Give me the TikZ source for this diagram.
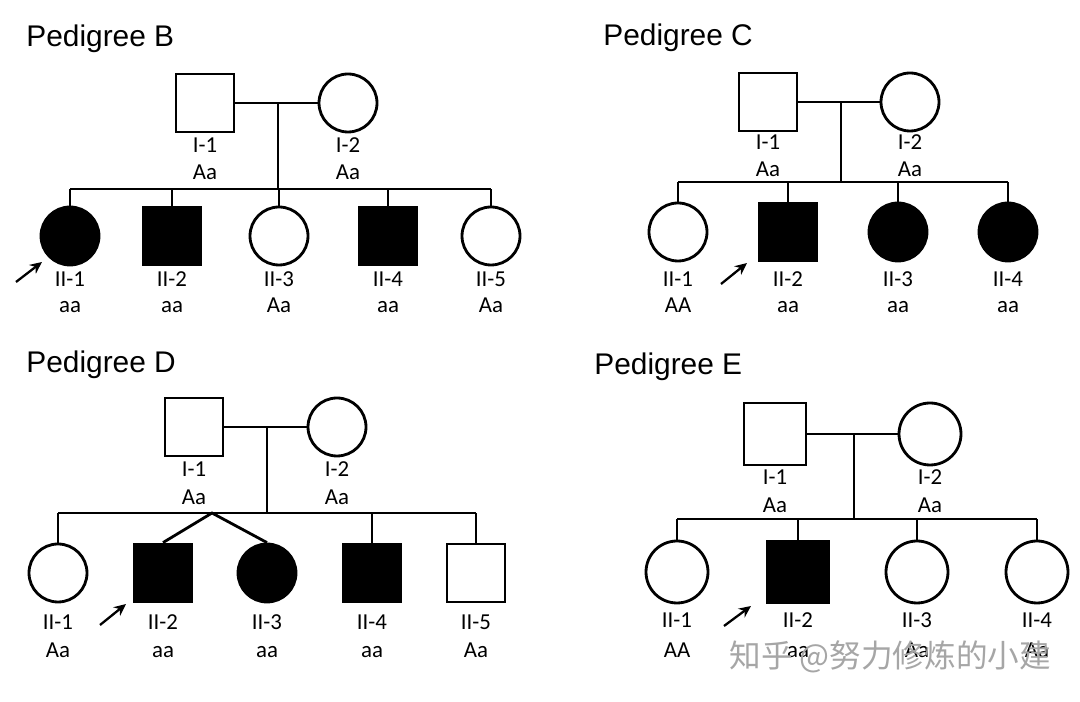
\documentclass[tikz,border=0pt]{standalone}
\usepackage{fontspec}
\setmainfont{Carlito}
\newfontfamily\headfont{Liberation Sans}
\newfontfamily\wmfont{Noto Sans CJK SC}
\usetikzlibrary{positioning,arrows.meta}

\begin{document}
\begin{tikzpicture}[x=0.02cm,y=-0.02cm,line width=1.6pt,
  ind/.style={draw,minimum size=1.16cm,inner sep=0pt},
  lbl/.style={anchor=base,inner sep=0pt,font=\fontsize{13}{14}\selectfont},
  ttl/.style={anchor=base west,inner sep=0pt,font=\headfont\fontsize{17}{20}\selectfont},
  ar/.style={-{Stealth[length=2.4mm,width=2.2mm]},line width=1.3pt}]
  \useasboundingbox (0,0) rectangle (1080,702);

  % Pedigree B
  \node[ttl] (tB) at (25,47) {Pedigree B};
  \node[ind,shape=rectangle] (b1) at (205,103) {};
  \node[ind,shape=circle] (b2) at (348,103) {};
  \coordinate (bm) at (278,103);
  \coordinate (bs) at (278,189);
  \draw (b1) -- (b2); \draw (bm) -- (bs);
  \foreach \n/\x in {1/205,2/348} {
    \node[lbl] (bl\n) at (\x,153) {I-\n};
    \node[lbl] (bg\n) at (\x,180) {Aa};
  }
  \foreach \n/\x/\sh/\f/\g in {1/70/circle/black/aa,2/172/rectangle/black/aa,3/279/circle/white/Aa,4/388/rectangle/black/aa,5/491/circle/white/Aa} {
    \node[ind,shape=\sh,fill=\f] (bc\n) at (\x,236) {};
    \draw (bc\n) -- (bc\n |- bs);
    \node[lbl] (bcl\n) at (\x,287) {II-\n};
    \node[lbl] (bcg\n) at (\x,313) {\g};
  }
  \draw (bc1 |- bs) -- (bc5 |- bs);
  \coordinate (ba0) at (16,282); \coordinate (ba1) at (42,262);
  \draw[ar] (ba0) -- (ba1);

  % Pedigree C
  \node[ttl] (tC) at (602,46) {Pedigree C};
  \node[ind,shape=rectangle] (c1) at (768,102) {};
  \node[ind,shape=circle] (c2) at (910,102) {};
  \coordinate (cm) at (841,102);
  \coordinate (cs) at (841,182);
  \draw (c1) -- (c2); \draw (cm) -- (cs);
  \foreach \n/\x in {1/768,2/910} {
    \node[lbl] (cl\n) at (\x,150) {I-\n};
    \node[lbl] (cg\n) at (\x,177) {Aa};
  }
  \foreach \n/\x/\sh/\f/\g in {1/678/circle/white/AA,2/788/rectangle/black/aa,3/898/circle/black/aa,4/1008/circle/black/aa} {
    \node[ind,shape=\sh,fill=\f] (cc\n) at (\x,232) {};
    \draw (cc\n) -- (cc\n |- cs);
    \node[lbl] (ccl\n) at (\x,287) {II-\n};
    \node[lbl] (ccg\n) at (\x,313) {\g};
  }
  \draw (cc1 |- cs) -- (cc4 |- cs);
  \coordinate (ca0) at (721,284); \coordinate (ca1) at (747,263);
  \draw[ar] (ca0) -- (ca1);

  % Pedigree D
  \node[ttl] (tD) at (25,373) {Pedigree D};
  \node[ind,shape=rectangle] (d1) at (194,427) {};
  \node[ind,shape=circle] (d2) at (337,427) {};
  \coordinate (dm) at (267,427);
  \coordinate (ds) at (267,513);
  \draw (d1) -- (d2); \draw (dm) -- (ds);
  \foreach \n/\x in {1/194,2/337} {
    \node[lbl] (dl\n) at (\x,477) {I-\n};
    \node[lbl] (dg\n) at (\x,505) {Aa};
  }
  \foreach \n/\x/\sh/\f/\g in {1/58/circle/white/Aa,2/163/rectangle/black/aa,3/267/circle/black/aa,4/372/rectangle/black/aa,5/476/rectangle/white/Aa} {
    \node[ind,shape=\sh,fill=\f] (dc\n) at (\x,573) {};
    \node[lbl] (dcl\n) at (\x,630) {II-\n};
    \node[lbl] (dcg\n) at (\x,658) {\g};
  }
  \foreach \n in {1,4,5} \draw (dc\n) -- (dc\n |- ds);
  \draw (dc1 |- ds) -- (dc5 |- ds);
  \coordinate (dt) at (212,513);
  \draw (dc2.north) -- (dt) -- (dc3.north);
  \coordinate (da0) at (100,625); \coordinate (da1) at (126,604);
  \draw[ar] (da0) -- (da1);

  % Pedigree E
  \node[ttl] (tE) at (593,375) {Pedigree E};
  \node[ind,shape=rectangle,minimum size=1.24cm] (e1) at (775,434) {};
  \node[ind,shape=circle,minimum size=1.24cm] (e2) at (930,434) {};
  \coordinate (em) at (854,434);
  \coordinate (es) at (854,519);
  \draw (e1) -- (e2); \draw (em) -- (es);
  \foreach \n/\x in {1/775,2/930} {
    \node[lbl] (el\n) at (\x,485) {I-\n};
    \node[lbl] (eg\n) at (\x,513) {Aa};
  }
  \foreach \n/\x/\sh/\f/\g in {1/677/circle/white/AA,2/798/rectangle/black/aa,3/917/circle/white/Aa,4/1037/circle/white/Aa} {
    \node[ind,shape=\sh,fill=\f,minimum size=1.24cm] (ec\n) at (\x,572) {};
    \draw (ec\n) -- (ec\n |- es);
    \node[lbl] (ecl\n) at (\x,628) {II-\n};
    \node[lbl] (ecg\n) at (\x,658) {\g};
  }
  \draw (ec1 |- es) -- (ec4 |- es);
  \coordinate (ea0) at (724,626); \coordinate (ea1) at (751,606);
  \draw[ar] (ea0) -- (ea1);

  % watermark
  \node[anchor=west,inner sep=0pt,text=black!35,font=\wmfont\fontsize{18}{20}\selectfont] (wm) at (728,657) {知乎 @努力修炼的小建};
\end{tikzpicture}
\end{document}
